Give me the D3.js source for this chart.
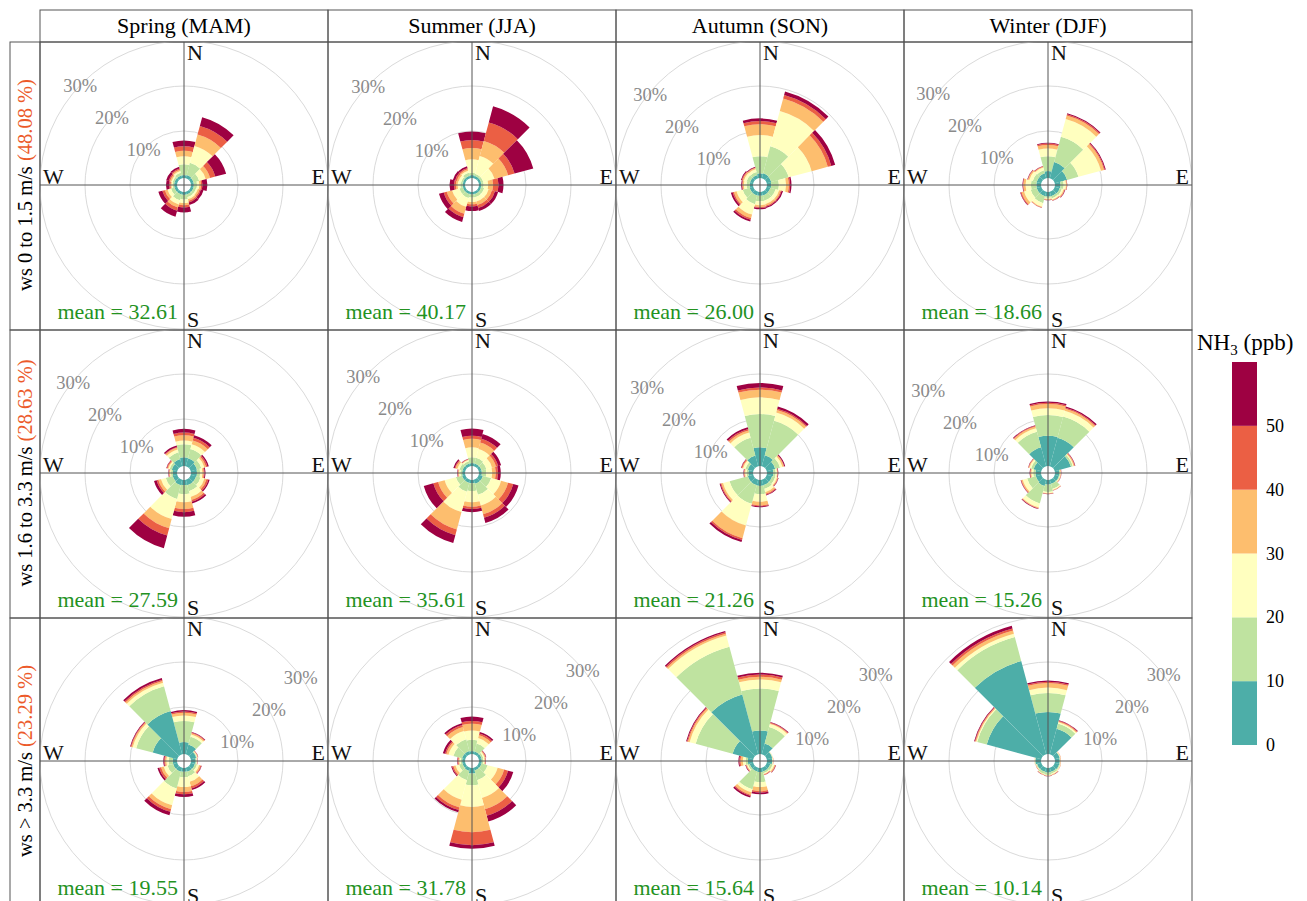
<!DOCTYPE html>
<html>
<head>
<meta charset="utf-8">
<script src="https://cdn.jsdelivr.net/npm/d3@7/dist/d3.min.js"></script>
<style>
  body { margin: 0; background: #fff; }
  text { font-family: "Liberation Serif", "Times New Roman", serif; }
</style>
</head>
<body>
<div id="chart"></div>
<script>
/** Chart values */
const seasons = ["Spring (MAM)", "Summer (JJA)", "Autumn (SON)", "Winter (DJF)"];
const wsLabels = ["ws 0 to 1.5 m/s ", "ws 1.6 to 3.3 m/s ", "ws > 3.3 m/s "];
const wsShares = ["(48.08 %)", "(28.63 %)", "(23.29 %)"];
const means = [
  ["32.61", "40.17", "26.00", "18.66"],
  ["27.59", "35.61", "21.26", "15.26"],
  ["19.55", "31.78", "15.64", "10.14"],
];
const directions = [0, 30, 60, 90, 120, 150, 180, 210, 240, 270, 300, 330];
const concBreaks = [0, 10, 20, 30, 40, 50];
const pctTicks = [10, 20, 30];

// cumulative frequency (%) at the top of each NH3 band (0-10,10-20,...,50+), one row per direction
const springLow = [
  [0.2, 2.6, 4.4, 5.6, 6.6, 7.9], [0.3, 3.1, 7.0, 9.6, 11.6, 13.6], [0.2, 1.5, 3.0, 4.0, 5.2, 7.7],
  [0.2, 0.9, 1.4, 1.8, 2.1, 3.2], [0.2, 0.8, 1.2, 1.6, 1.9, 2.5], [0.2, 0.8, 1.3, 1.7, 2.0, 2.6],
  [0.2, 1.2, 2.0, 2.5, 3.0, 4.1], [0.2, 1.5, 2.5, 3.2, 3.9, 5.3], [0.2, 1.0, 1.8, 2.4, 3.0, 3.9],
  [0.2, 0.5, 0.8, 1.0, 1.3, 2.0], [0.2, 0.6, 0.9, 1.2, 1.5, 2.1], [0.2, 0.8, 1.2, 1.5, 1.8, 2.2],
];
const summerLow = [
  [0.2, 0.7, 3.7, 6.2, 8.0, 9.9], [0.1, 0.6, 4.7, 8.1, 12.4, 16.1], [0.1, 0.6, 3.2, 6.3, 7.8, 12.1],
  [0.1, 0.6, 1.6, 2.7, 3.9, 5.0], [0.1, 0.8, 1.8, 2.6, 3.3, 4.0], [0.1, 0.8, 1.8, 2.6, 3.3, 4.0],
  [0.1, 0.8, 1.8, 2.3, 2.8, 3.8], [0.1, 1.0, 3.0, 4.6, 5.4, 6.5], [0.1, 0.9, 2.6, 3.8, 4.5, 5.6],
  [0.1, 0.6, 1.2, 1.6, 2.0, 3.0], [0.1, 0.5, 1.1, 1.5, 1.9, 2.4], [0.1, 0.8, 1.3, 1.6, 1.9, 2.3],
];
const autumnLow = [
  [0.6, 4.4, 9.1, 11.5, 12.2, 12.8], [0.7, 6.9, 15.0, 17.9, 18.7, 19.5], [0.6, 4.6, 9.9, 13.6, 14.4, 15.3],
  [0.5, 2.2, 3.8, 4.4, 4.7, 5.0], [0.4, 1.6, 2.4, 2.8, 3.0, 3.3], [0.4, 1.6, 2.4, 2.8, 3.0, 3.3],
  [0.4, 1.6, 2.5, 2.9, 3.1, 3.4], [0.4, 2.4, 4.8, 5.6, 6.0, 6.4], [0.4, 2.0, 3.4, 4.0, 4.3, 4.7],
  [0.3, 1.0, 1.6, 1.9, 2.0, 2.2], [0.3, 1.1, 1.7, 2.0, 2.2, 2.4], [0.3, 1.0, 1.6, 1.9, 2.0, 2.2],
];
const winterLow = [
  [1.1, 4.4, 6.1, 6.9, 7.2, 7.4], [3.3, 9.1, 13.2, 14.0, 14.3, 14.5], [2.4, 5.0, 10.2, 10.9, 11.1, 11.3],
  [0.8, 1.5, 2.0, 2.2, 2.25, 2.3], [0.7, 1.2, 1.6, 1.8, 1.9, 2.0], [0.6, 1.1, 1.4, 1.55, 1.65, 1.7],
  [0.6, 0.9, 1.1, 1.3, 1.35, 1.4], [0.6, 2.2, 3.0, 3.2, 3.25, 3.3], [0.6, 2.0, 3.5, 4.1, 4.3, 4.4],
  [0.6, 1.8, 3.0, 3.5, 3.6, 3.7], [0.6, 1.5, 2.3, 2.6, 2.7, 2.8], [0.7, 1.4, 2.0, 2.2, 2.3, 2.4],
];
const springMid = [
  [1.5, 4.4, 5.2, 6.4, 7.0, 7.8], [1.4, 3.5, 4.6, 5.5, 6.1, 6.7], [1.0, 2.0, 2.7, 3.1, 3.4, 3.7],
  [0.9, 1.6, 2.1, 2.4, 2.6, 2.8], [0.8, 1.8, 2.7, 3.2, 3.6, 3.9], [0.8, 2.2, 3.5, 4.2, 4.6, 5.0],
  [0.7, 2.7, 4.5, 6.0, 6.7, 7.7], [0.8, 4.0, 8.6, 10.7, 12.4, 15.3], [0.6, 2.2, 3.3, 3.9, 4.3, 4.9],
  [0.5, 0.9, 1.1, 1.3, 1.4, 1.5], [0.8, 1.3, 1.6, 1.8, 2.0, 2.1], [1.2, 2.8, 3.4, 3.8, 4.0, 4.3],
];
const summerMid = [
  [0.2, 1.5, 3.7, 5.6, 6.3, 7.9], [0.2, 1.5, 3.5, 5.0, 5.9, 7.0], [0.2, 1.3, 2.6, 3.5, 4.0, 4.7],
  [0.2, 1.2, 2.5, 3.3, 3.8, 4.4], [0.5, 2.4, 4.7, 6.3, 7.5, 8.7], [0.5, 3.0, 5.5, 7.5, 8.3, 9.5],
  [0.3, 2.0, 4.5, 5.5, 6.0, 6.7], [0.3, 2.3, 7.0, 11.0, 12.3, 14.1], [0.3, 1.7, 4.3, 5.8, 6.9, 9.1],
  [0.2, 0.6, 0.9, 1.1, 1.2, 1.3], [0.2, 0.9, 1.4, 1.8, 2.0, 2.3], [0.2, 0.7, 1.0, 1.1, 1.2, 1.3],
];
const autumnMid = [
  [3.7, 11.1, 14.8, 16.5, 17.0, 18.0], [2.1, 10.0, 11.9, 12.5, 12.8, 13.3], [1.5, 2.6, 3.2, 3.5, 3.6, 3.8],
  [1.0, 1.5, 1.8, 1.9, 2.0, 2.1], [0.8, 1.5, 1.9, 2.1, 2.2, 2.3], [0.8, 1.7, 2.4, 2.8, 3.0, 3.2],
  [0.9, 2.7, 4.4, 5.2, 5.4, 5.6], [0.8, 5.1, 10.1, 13.0, 13.4, 13.9], [0.8, 5.0, 6.5, 6.9, 7.1, 7.3],
  [0.6, 1.0, 1.3, 1.5, 1.6, 1.7], [0.8, 1.4, 1.9, 2.1, 2.3, 2.4], [2.0, 6.1, 7.3, 7.8, 8.1, 8.5],
];
const winterMid = [
  [6.3, 10.9, 12.4, 13.3, 13.6, 13.9], [6.1, 11.0, 12.3, 12.8, 13.0, 13.3], [3.3, 3.7, 3.9, 4.1, 4.2, 4.3],
  [0.5, 0.7, 0.8, 0.9, 0.95, 1.0], [0.5, 0.7, 0.8, 0.9, 0.95, 1.0], [0.5, 1.7, 1.9, 2.0, 2.05, 2.1],
  [0.6, 2.2, 2.5, 2.6, 2.65, 2.7], [1.0, 5.0, 5.9, 6.1, 6.2, 6.3], [0.8, 2.8, 3.8, 4.1, 4.2, 4.3],
  [0.8, 1.3, 1.7, 1.9, 2.0, 2.1], [1.3, 1.9, 2.3, 2.45, 2.55, 2.6], [3.9, 7.5, 8.3, 8.7, 8.85, 9.0],
];
const springHigh = [
  [2.2, 6.9, 8.1, 8.7, 9.0, 9.3], [1.8, 3.6, 4.1, 4.4, 4.55, 4.7], [0.8, 1.0, 1.1, 1.2, 1.25, 1.3],
  [0.6, 0.8, 0.9, 0.95, 1.0, 1.05], [0.5, 1.0, 1.5, 1.8, 2.0, 2.1], [0.5, 1.5, 2.8, 3.8, 4.3, 4.7],
  [0.4, 1.6, 3.8, 4.9, 5.4, 6.0], [0.5, 4.3, 8.2, 9.1, 9.7, 10.5], [0.5, 1.8, 2.7, 3.3, 3.7, 4.1],
  [0.5, 1.4, 1.9, 2.2, 2.4, 2.6], [5.2, 9.0, 9.8, 10.1, 10.25, 10.4], [9.5, 15.2, 16.0, 16.4, 16.7, 17.1],
];
const summerHigh = [
  [0.2, 2.7, 4.8, 6.3, 6.9, 7.9], [0.2, 2.0, 3.3, 3.9, 4.3, 4.7], [0.2, 0.6, 0.9, 1.1, 1.2, 1.3],
  [0.2, 0.5, 0.8, 0.95, 1.05, 1.1], [0.2, 1.6, 3.9, 5.4, 6.3, 7.5], [0.2, 2.4, 6.5, 9.1, 10.6, 11.9],
  [0.8, 3.4, 8.2, 13.8, 16.7, 17.5], [0.3, 2.4, 6.9, 8.7, 9.3, 9.8], [0.2, 1.0, 1.8, 2.3, 2.6, 2.8],
  [0.2, 0.5, 0.8, 1.0, 1.2, 1.3], [0.3, 2.3, 3.4, 3.9, 4.2, 4.7], [0.3, 3.0, 4.9, 5.8, 6.3, 6.7],
];
const autumnHigh = [
  [4.8, 14.1, 16.1, 16.7, 17.2, 17.6], [2.0, 5.8, 6.5, 6.7, 6.85, 7.0], [0.8, 0.9, 0.95, 1.0, 1.0, 1.0],
  [0.7, 0.8, 0.9, 0.95, 1.0, 1.0], [0.4, 0.9, 1.3, 1.5, 1.6, 1.7], [0.4, 0.8, 1.0, 1.15, 1.25, 1.3],
  [0.5, 2.7, 3.8, 4.7, 5.0, 5.4], [0.4, 4.5, 5.2, 5.8, 6.05, 6.4], [0.4, 0.8, 1.0, 1.2, 1.3, 1.4],
  [0.7, 1.2, 1.8, 2.3, 2.6, 2.8], [4.3, 12.8, 14.2, 14.6, 14.8, 15.0], [13.3, 24.3, 26.9, 27.3, 27.6, 27.9],
];
const winterHigh = [
  [8.9, 13.1, 14.3, 15.3, 15.6, 15.9], [5.4, 6.6, 6.9, 7.1, 7.25, 7.4], [0.7, 0.8, 0.9, 0.95, 1.0, 1.0],
  [0.6, 0.7, 0.8, 0.85, 0.9, 0.9], [0.6, 0.8, 0.9, 0.95, 1.0, 1.0], [0.5, 0.9, 1.1, 1.2, 1.25, 1.3],
  [0.6, 1.1, 1.2, 1.3, 1.35, 1.4], [0.5, 1.0, 1.1, 1.2, 1.25, 1.3], [0.5, 0.7, 0.8, 0.85, 0.9, 0.9],
  [0.8, 0.9, 0.95, 1.0, 1.0, 1.0], [12.1, 14.3, 14.5, 14.7, 14.85, 15.0], [21.0, 26.5, 27.3, 28.0, 28.5, 29.1],
];

const roses = [
  [springLow, summerLow, autumnLow, winterLow],
  [springMid, summerMid, autumnMid, winterMid],
  [springHigh, summerHigh, autumnHigh, winterHigh],
];

/** Layout and style */
const W = 1307, H = 901;
const gridLeft = 40, gridTop = 42, cell = 288;
const bandColours = ["#4daea8", "#bfe3a0", "#ffffbf", "#fdbe6e", "#eb5f44", "#9e0142"];
// where the % ring labels sit: ray angle per row, small nudge per panel
const labelAngle = [315, 315, 45];
const labelNudge = [
  [[-2, 3], [-2, 4], [-8, 12], [-13, 11]],
  [[-9, 12], [-7, 6], [-11, 17], [-18, 20]],
  [[15, 19], [9, 12], [14, 16], [14, 16]],
];

const svg = d3.select("#chart").append("svg")
  .attr("width", W).attr("height", H);

const r = d3.scaleLinear().domain([0, 30]).range([9, 144]);
const colour = d3.scaleOrdinal().domain(concBreaks).range(bandColours);
const arc = d3.arc();
const rad = Math.PI / 180;

/** Strips */
seasons.forEach((s, j) => {
  const x0 = gridLeft + j * cell;
  svg.append("rect").attr("x", x0).attr("y", 10).attr("width", cell).attr("height", gridTop - 10)
    .attr("fill", "none").attr("stroke", "#555");
  svg.append("text").attr("x", x0 + cell / 2).attr("y", 33)
    .attr("text-anchor", "middle").attr("font-size", 22).text(s);
});

wsLabels.forEach((lab, i) => {
  const y0 = gridTop + i * cell;
  svg.append("rect").attr("x", 10).attr("y", y0).attr("width", gridLeft - 10).attr("height", cell)
    .attr("fill", "none").attr("stroke", "#555");
  const t = svg.append("text")
    .attr("transform", `translate(32,${y0 + 143}) rotate(-90)`)
    .attr("text-anchor", "middle").attr("font-size", 20.5);
  t.append("tspan").text(lab);
  t.append("tspan").attr("fill", "#ec5a2a").text(wsShares[i]);
});

/** Panels */
roses.forEach((row, i) => {
  row.forEach((rose, j) => {
    const x0 = gridLeft + j * cell, y0 = gridTop + i * cell;
    const cx = x0 + cell / 2, cy = y0 + 143;
    const id = `clip-${i}-${j}`;
    svg.append("clipPath").attr("id", id)
      .append("rect").attr("x", x0).attr("y", y0).attr("width", cell).attr("height", cell);

    const outer = svg.append("g").attr("clip-path", `url(#${id})`);
    const g = outer.append("g").attr("transform", `translate(${cx},${cy})`);

    g.selectAll("circle.ring").data(pctTicks).join("circle")
      .attr("class", "ring").attr("r", (d) => r(d))
      .attr("fill", "none").attr("stroke", "#dadada").attr("stroke-width", 1);

    const segs = [];
    rose.forEach((cum, k) => {
      cum.forEach((v, b) => {
        segs.push({ dir: directions[k], band: concBreaks[b], lo: b ? cum[b - 1] : 0, hi: v });
      });
    });
    g.selectAll("path.seg").data(segs).join("path")
      .attr("class", "seg")
      .attr("d", (d) => arc({
        innerRadius: d.lo ? r(d.lo) : 7, outerRadius: r(d.hi),
        startAngle: (d.dir - 15) * rad, endAngle: (d.dir + 15) * rad,
      }))
      .attr("fill", (d) => colour(d.band));

    g.append("line").attr("x1", -cell / 2).attr("x2", cell / 2).attr("y1", 0).attr("y2", 0)
      .attr("stroke", "#555").attr("stroke-width", 1);
    g.append("line").attr("x1", 0).attr("x2", 0).attr("y1", -143).attr("y2", cell - 143)
      .attr("stroke", "#555").attr("stroke-width", 1);

    const a = labelAngle[i] * rad, [nx, ny] = labelNudge[i][j];
    g.selectAll("text.pct").data(pctTicks).join("text")
      .attr("class", "pct")
      .attr("x", (d) => r(d) * Math.sin(a) + nx)
      .attr("y", (d) => -r(d) * Math.cos(a) + ny)
      .attr("text-anchor", "middle").attr("dominant-baseline", "central")
      .attr("font-size", 18.5).attr("fill", "#8a8a8a")
      .text((d) => d + "%");

    const card = g.append("g").attr("font-size", 22).attr("fill", "#111");
    card.append("text").attr("x", 3).attr("y", -125).text("N");
    card.append("text").attr("x", 3).attr("y", 142).text("S");
    card.append("text").attr("x", -141).attr("y", -1).text("W");
    card.append("text").attr("x", 141).attr("y", -1).attr("text-anchor", "end").text("E");

    g.append("text").attr("x", -6).attr("y", 134)
      .attr("text-anchor", "end").attr("font-size", 22).attr("fill", "#23921f")
      .text("mean = " + means[i][j]);

    svg.append("rect").attr("x", x0).attr("y", y0).attr("width", cell).attr("height", cell)
      .attr("fill", "none").attr("stroke", "#555");
  });
});

/** Legend */
const legend = svg.append("g");
const title = legend.append("text").attr("x", 1197).attr("y", 350).attr("font-size", 23);
title.append("tspan").text("NH");
title.append("tspan").attr("font-size", 15).attr("dy", 5).text("3");
title.append("tspan").attr("dy", -5).text(" (ppb)");

const legScale = d3.scaleLinear().domain([0, 60]).range([745, 362]);
legend.selectAll("rect").data(concBreaks).join("rect")
  .attr("x", 1232).attr("width", 25)
  .attr("y", (d) => legScale(d + 10)).attr("height", (d) => legScale(d) - legScale(d + 10))
  .attr("fill", (d) => colour(d));
legend.selectAll("text.tick").data(concBreaks).join("text")
  .attr("class", "tick").attr("x", 1266).attr("y", (d) => legScale(d))
  .attr("dominant-baseline", "central").attr("font-size", 18).text((d) => d);
</script>
</body>
</html>
